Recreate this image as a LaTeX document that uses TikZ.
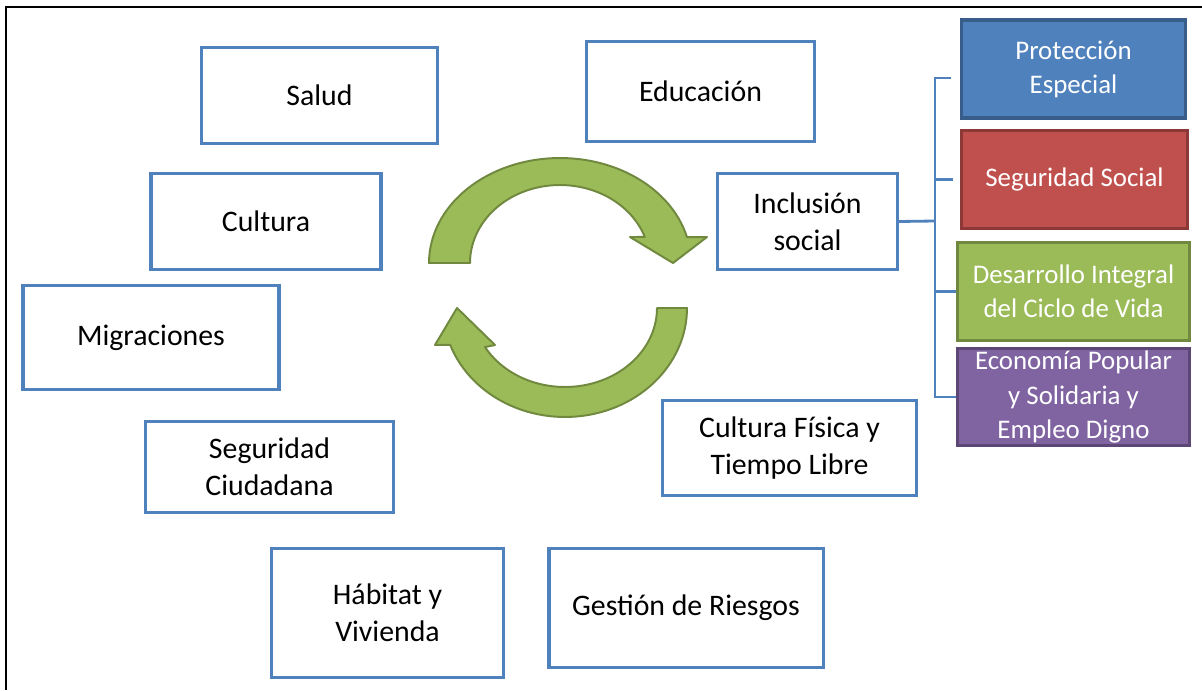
\documentclass[tikz,border=0pt]{standalone}
\usepackage{fontspec}
\setmainfont{Carlito}
\usepackage{tikz}
\usetikzlibrary{shadows}
\usepackage{color}
\definecolor{Office-1}{RGB}{79,129,189}
\definecolor{Office-1d}{RGB}{56,93,138}
\definecolor{Office-2}{RGB}{192,80,77}
\definecolor{Office-2d}{RGB}{140,56,54}
\definecolor{Office-3}{RGB}{155,187,89}
\definecolor{Office-3d}{RGB}{113,137,63}
\definecolor{Office-4}{RGB}{128,100,162}
\definecolor{Office-4d}{RGB}{92,71,118}

\tikzset{
  area/.style={draw=Office-1, line width=2.2pt, fill=white, align=center, inner sep=2pt,
    font=\fontsize{21.2}{26.5}\selectfont,
    drop shadow={shadow xshift=0.5pt, shadow yshift=-0.9pt, opacity=0.3}},
  sub/.style={draw=#1d, fill=#1, line width=2.2pt, align=center, inner sep=2pt, text=white,
    font=\fontsize{19.1}{24.2}\selectfont,
    drop shadow={shadow xshift=0.5pt, shadow yshift=-0.9pt, opacity=0.3}},
  brace/.style={draw=Office-1, line width=2pt},
  cycarrow/.style={draw=Office-3d, fill=Office-3, line width=1.4pt, line join=round},
  frame/.style={draw=black, line width=1.5pt}
}

\begin{document}
\begin{tikzpicture}[x=0.025cm, y=-0.025cm]
  \useasboundingbox (0,0) rectangle (1202,690);
  \draw[frame] (1202,7) -- (6,7) -- (6,690);

  % left and lower areas
  \node[area, minimum width=5.88cm, minimum height=2.38cm] (salud)   at (319.5, 95.5) {Salud};
  \node[area, minimum width=5.68cm, minimum height=2.50cm] (edu)     at (700.5, 91.5) {Educación};
  \node[area, minimum width=5.75cm, minimum height=2.40cm] (cultura) at (266.0, 221.5) {Cultura};
  \node[area, minimum width=4.48cm, minimum height=2.40cm] (incl)    at (807.5, 221.5) {Inclusión\\social};
  \node[area, minimum width=6.40cm, minimum height=2.60cm] (migr)    at (151.0, 337.5) {Migraciones};
  \node[area, minimum width=6.18cm, minimum height=2.28cm] (segc)    at (269.5, 467.0) {Seguridad\\Ciudadana};
  \node[area, minimum width=6.33cm, minimum height=2.38cm] (cfis)    at (789.5, 448.0) {Cultura Física y\\Tiempo Libre};
  \node[area, minimum width=5.78cm, minimum height=3.23cm] (habitat) at (387.5, 613.0) {Hábitat y\\Vivienda};
  \node[area, minimum width=6.85cm, minimum height=2.98cm] (gestion) at (686.0, 608.0) {Gestión de Riesgos};

  % sub areas of inclusion
  \node[sub=Office-1, minimum width=5.58cm, minimum height=2.45cm] (prot) at (1073.5, 69.0)  {Protección\\Especial};
  \node[sub=Office-2, minimum width=5.63cm, minimum height=2.43cm] (segs) at (1074.5, 179.5) {Seguridad Social};
  \node[sub=Office-3, minimum width=5.78cm, minimum height=2.43cm] (desa) at (1073.5, 291.5) {Desarrollo Integral\\del Ciclo de Vida};
  \node[sub=Office-4, minimum width=5.78cm, minimum height=2.40cm] (econ) at (1073.5, 397.0) {Economía Popular\\y Solidaria y\\Empleo Digno};

  \coordinate (spine) at (935, 221);
  \draw[brace] (incl.east) -- (spine);
  \draw[brace] ([shift={(-9,9)}]prot.west) -| (spine |- econ.west) -- (econ.west);
  \draw[brace] (spine |- segs.west) -- ([shift={(-7,0)}]segs.west);
  \draw[brace] (spine |- desa.west) -- (desa.west);

  % cycle arrows
  \draw[cycarrow] plot[domain=180:14.3, samples=60] ({560+131*cos(\x)}, {263-105*sin(\x)})
    -- (707,237) -- (673,263) -- (630,237)
    -- plot[domain=19.5:180, samples=60] ({560+90*cos(\x)}, {263-78*sin(\x)}) -- cycle;
  \draw[cycarrow] plot[domain=0:-160.2, samples=60] ({565+122*cos(\x)}, {308-109*sin(\x)})
    -- (435,345) -- (457,308) -- (495,345)
    -- plot[domain=-150.4:0, samples=60] ({565+92*cos(\x)}, {308-79*sin(\x)}) -- cycle;
\end{tikzpicture}
\end{document}
